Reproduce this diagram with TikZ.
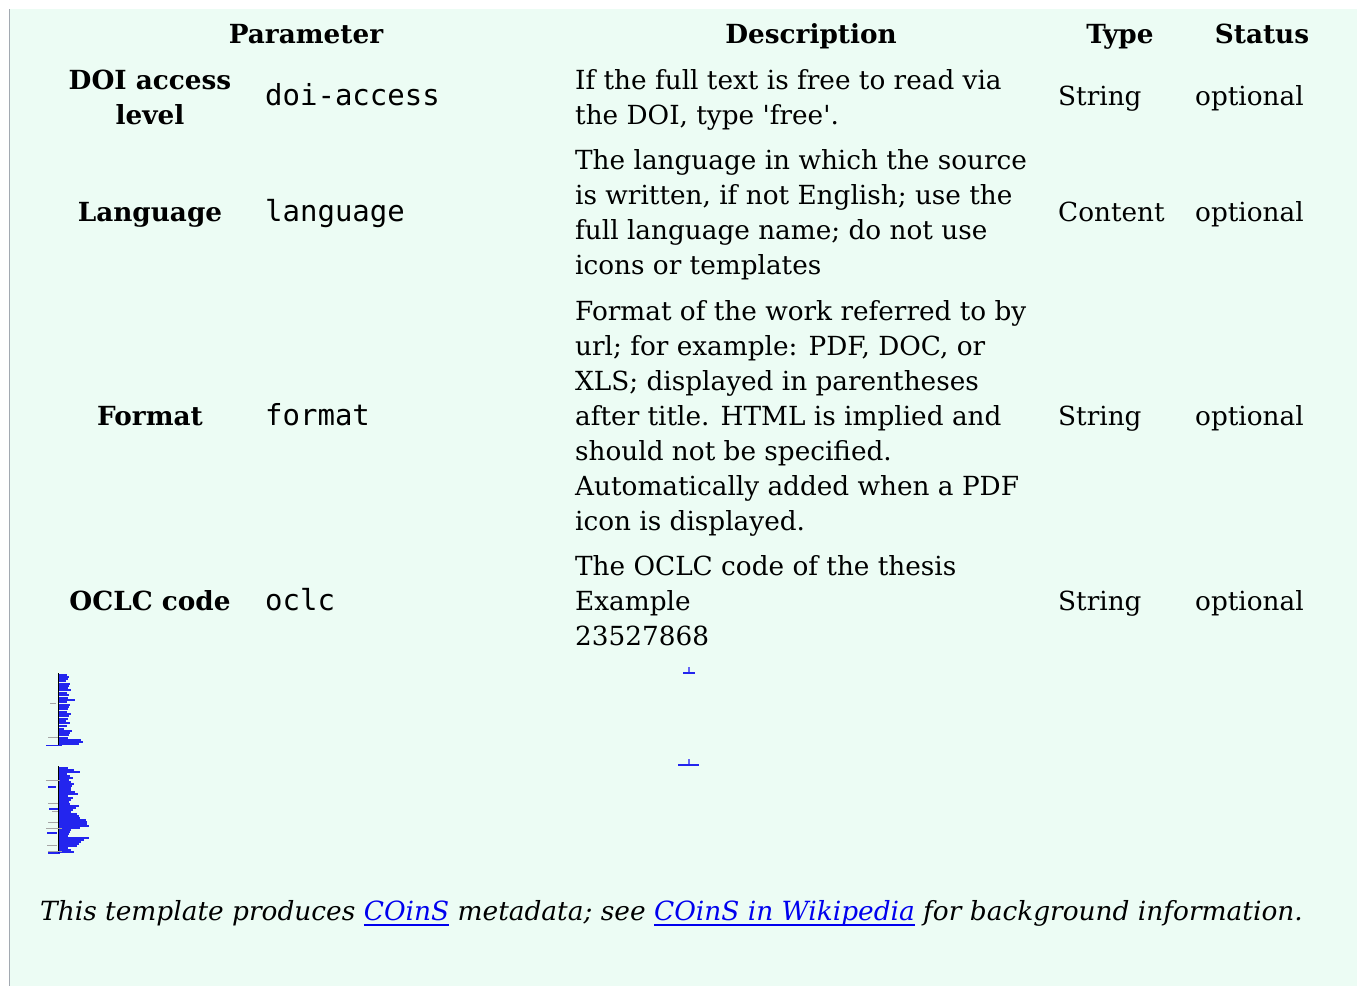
\documentclass[tikz,border=0pt]{standalone}
\usepackage{fontspec}
\setmainfont{DejaVu Serif}[Ligatures=TeXOff]
\setmonofont{DejaVu Sans Mono}
\definecolor{mint}{HTML}{ECFCF4}
\definecolor{edge}{HTML}{A2A9B1}
\definecolor{linkblue}{HTML}{0000EE}
\tikzset{
  txt/.style={inner sep=0pt, anchor=west, align=left, font=\fontsize{26.3}{35}\selectfont},
  one/.style={inner sep=0pt, anchor=base west, font=\fontsize{26.3}{35}\selectfont},
  code/.style={inner sep=0pt, anchor=base west, font=\fontsize{29}{35}\selectfont\ttfamily},
  pname/.style={inner sep=0pt, anchor=center, align=center, font=\fontsize{26.3}{35}\selectfont\bfseries},
  pone/.style={inner sep=0pt, anchor=base, font=\fontsize{26.3}{35}\selectfont\bfseries},
  head/.style={inner sep=0pt, anchor=base, font=\fontsize{26.3}{35}\selectfont\bfseries},
  foot/.style={inner sep=0pt, anchor=base west, font=\fontsize{26.4}{35}\selectfont\itshape},
  bar/.style={fill=linkblue, fill opacity=0.85, draw=none},
}
\newsavebox{\lnkbox}
\newcommand{\lnk}[1]{{\color{linkblue}\sbox{\lnkbox}{#1}\rlap{\usebox{\lnkbox}}\rule[-5pt]{\wd\lnkbox}{1.4pt}}}
\begin{document}
\begin{tikzpicture}[x=1pt,y=-1pt]
\useasboundingbox (0,0) rectangle (1357,986);
\fill[white] (0,0) rectangle (1357,986);
\fill[mint] (9,9) rectangle (1357,986);
\draw[edge, line width=1pt] (9.5,9) -- (9.5,986);

% header
\node[head] (hp) at (306,43.5) {Parameter};
\node[head] (hd) at (811,43.5) {Description};
\node[head] (ht) at (1120,43.5) {Type};
\node[head] (hs) at (1262,43.5) {Status};

% row 1
\node[pname] (n1) at (150,97) {DOI access\\level};
\node[code] (c1) at (265,105.5) {doi-access};
\node[txt] (d1) at (575,99.5) {If the full text is free to read via\\the DOI, type 'free'.};
\node[one] (t1) at (1058,105.5) {String};
\node[one] (s1) at (1195,105.5) {optional};

% row 2
\node[pone] (n2) at (150,221.5) {Language};
\node[code] (c2) at (265,221.5) {language};
\node[txt] (d2) at (575,214.5) {The language in which the source\\is written, if not English; use the\\full language name; do not use\\icons or templates};
\node[one] (t2) at (1058,221.5) {Content};
\node[one] (s2) at (1195,221.5) {optional};

% row 3
\node[pone] (n3) at (150,425) {Format};
\node[code] (c3) at (265,425) {format};
\node[txt] (d3) at (575,418) {Format of the work referred to by\\url; for example: PDF, DOC, or\\XLS; displayed in parentheses\\after title. HTML is implied and\\should not be specified.\\Automatically added when a PDF\\icon is displayed.};
\node[one] (t3) at (1058,425) {String};
\node[one] (s3) at (1195,425) {optional};

% row 4
\node[pone] (n4) at (150,610.5) {OCLC code};
\node[code] (c4) at (265,610.5) {oclc};
\node[txt] (d4) at (575,601) {The OCLC code of the thesis\\Example\\23527868};
\node[one] (t4) at (1058,610.5) {String};
\node[one] (s4) at (1195,610.5) {optional};

% tiny rendered graphs
\draw[black, line width=1pt] (58.7,673) -- (58.7,745);
\foreach \y/\l in {674/8,676/10,678/9,680/7,683/11,685/10,687/9,689/12,692/8,694/10,697/9,699/16,701/8,704/11,706/10,708/9,711/8,713/12,715/10,718/9,720/7,722/11,725/8,728/5,730/13,732/11,734/10,737/9,739/22,741/24,743/20}
  \fill[bar] (59.3,\y) rectangle ++(\l,1.8);
\fill[bar] (46,744.5) rectangle (62,746.3);
\draw[black, line width=1pt] (58.7,766) -- (58.7,853);
\foreach \y/\l in {767/9,769/15,771/21,773/8,775/11,777/14,779/10,781/12,783/15,785/13,787/12,789/12,791/16,793/19,795/9,797/14,799/12,801/10,803/11,805/20,807/17,809/14,811/12,813/18,815/20,817/21,819/27,821/28,823/28,825/30,827/21,829/12,831/11,833/10,835/9,837/30,839/25,841/22,843/20,845/18,847/9,849/12,851/15}
  \fill[bar] (59.3,\y) rectangle ++(\l,1.7);
\foreach \y/\a/\b in {703/50/56,737/48/58,780/46/60,803/48/58,811/52/58,822/48/58,828/46/62,845/47/57,851/48/62}
  \fill[gray!70] (\a,\y) rectangle (\b,\y+1);
\foreach \y/\a/\b in {786/48/56,808/49/58,832/47/57,852/48/60}
  \fill[bar] (\a,\y) rectangle (\b,\y+1.6);
\fill[bar] (683,672.1) rectangle (695,673.9);
\fill[linkblue!60] (688.3,667) rectangle (689.7,672.1);
\fill[bar] (678,764.1) rectangle (699,765.9);
\fill[linkblue!60] (688.3,759) rectangle (689.7,764.1);

% footer
\node[foot] (f) at (40,920.5) {This template produces \lnk{COinS} metadata; see \lnk{COinS in Wikipedia} for background information.};
\end{tikzpicture}
\end{document}
